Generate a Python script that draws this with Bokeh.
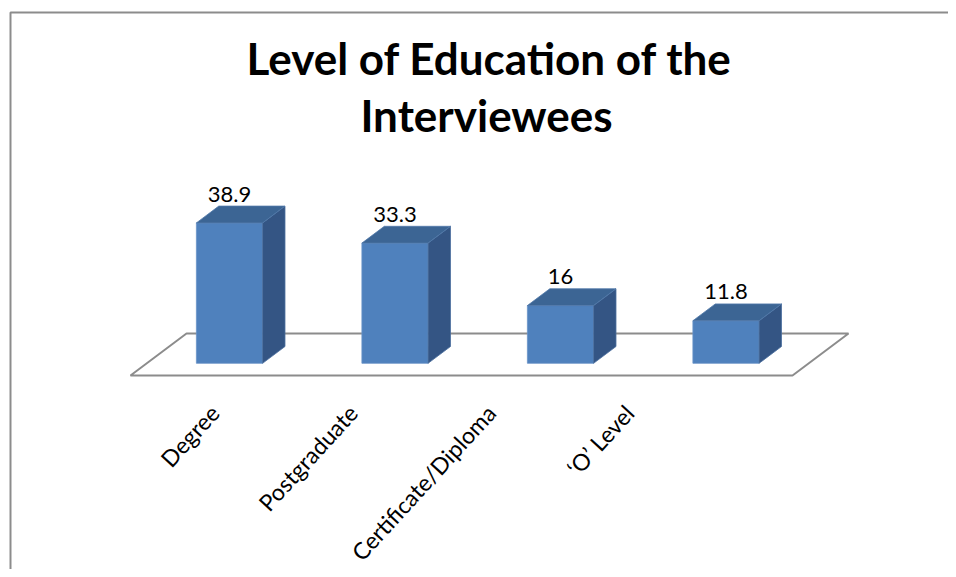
from bokeh.plotting import figure
from bokeh.models import Range1d
from bokeh.core.properties import value
from bokeh.embed import file_html
from bokeh.resources import INLINE

# ---- data ----
categories = ["Degree", "Postgraduate", "Certificate/Diploma", "\u2018O\u2019 Level"]
percent = [38.9, 33.3, 16, 11.8]
value_labels = ["38.9", "33.3", "16", "11.8"]
title_lines = ["Level of Education of the", "Interviewees"]

# ---- layout (pixels of the picture) ----
W, H = 948, 569
OFF = 0               # where the figure lands in the picture
PX_X = 165.5          # px per category slot
PX_Y = 3.61           # px per percent
ORIG_X, ORIG_Y = 130 - OFF, 375 - OFF   # floor front-left corner, figure px

def fx(xp):
    return (xp - OFF - ORIG_X) / PX_X

def fy(yp):
    return (ORIG_Y - (yp - OFF)) / PX_Y

# oblique 3D projection
KX = 56 / PX_X        # x shift per unit depth
KY = 42 / PX_Y        # y shift per unit depth
Z0, Z1 = 0.29, 0.69   # bar depth extent
BAR_W = 0.40

def proj(x, y, z):
    return x + z * KX, y + z * KY

p = figure(width=W, height=H, output_backend="svg", toolbar_location=None,
           x_range=Range1d(-ORIG_X / PX_X, (W - ORIG_X) / PX_X),
           y_range=Range1d((ORIG_Y - H) / PX_Y, ORIG_Y / PX_Y),
           x_axis_location=None, y_axis_location=None, min_border=0)
p.title = None
p.grid.visible = False
p.outline_line_color = None
p.background_fill_color = "white"
p.border_fill_color = "white"

n = len(categories)

# chart border (left and top edges)
p.line([fx(10), fx(10), fx(990)], [fy(620), fy(12), fy(12)],
       line_color="#8C8C8C", line_width=2)

# floor
fl = [proj(0, 0, 0), proj(n, 0, 0), proj(n, 0, 1), proj(0, 0, 1)]
p.patch([q[0] for q in fl], [q[1] for q in fl], fill_color="white",
        line_color="#8C8C8C", line_width=2)

front_xs, front_ys, side_xs, side_ys, top_xs, top_ys = [], [], [], [], [], []
for i, v in enumerate(percent):
    xl = i + 0.5 - BAR_W / 2
    xr = i + 0.5 + BAR_W / 2
    f = [proj(xl, 0, Z0), proj(xr, 0, Z0), proj(xr, v, Z0), proj(xl, v, Z0)]
    s = [proj(xr, 0, Z0), proj(xr, 0, Z1), proj(xr, v, Z1), proj(xr, v, Z0)]
    t = [proj(xl, v, Z0), proj(xr, v, Z0), proj(xr, v, Z1), proj(xl, v, Z1)]
    front_xs.append([q[0] for q in f]); front_ys.append([q[1] for q in f])
    side_xs.append([q[0] for q in s]); side_ys.append([q[1] for q in s])
    top_xs.append([q[0] for q in t]); top_ys.append([q[1] for q in t])

p.patches(front_xs, front_ys, fill_color="#4F81BD", line_color="#6A93C8", line_width=0.8)
p.patches(side_xs, side_ys, fill_color="#345584", line_color="#4A6E9E", line_width=0.8)
p.patches(top_xs, top_ys, fill_color="#3C6594", line_color="#5079AA", line_width=0.8)

# value labels
lab_x = [proj(i + 0.5, v, Z0)[0] for i, v in enumerate(percent)]
lab_y = [proj(i + 0.5, v, Z0)[1] + 8.0 for i, v in enumerate(percent)]
p.text(lab_x, lab_y, text=value_labels, text_font=value("Lato"),
       text_font_size="22px", text_color="black", text_align="center",
       text_baseline="alphabetic")

# category labels (rotated)
cat_x = [fx(214 + 138.3 * i) for i in range(n)]
cat_y = [fy(408)] * n
p.text(cat_x, cat_y, text=categories, angle=0.83, text_font=value("Lato"),
       text_font_size="23px", text_color="black", text_align="right",
       text_baseline="middle")

# title
p.text([fx(489)], [fy(57)], text=[title_lines[0]], text_font=value("Lato"),
       text_font_size="44px", text_font_style="bold", text_color="black",
       text_align="center", text_baseline="alphabetic")
p.text([fx(486)], [fy(114)], text=[title_lines[1]], text_font=value("Lato"),
       text_font_size="44px", text_font_style="bold", text_color="black",
       text_align="center", text_baseline="alphabetic")

open("out.html", "w").write(file_html(p, INLINE))
